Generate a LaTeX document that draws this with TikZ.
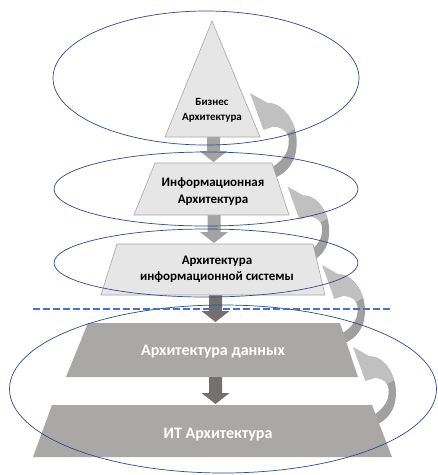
\documentclass[tikz,border=0pt]{standalone}
\usepackage{fontspec}
\setmainfont{Carlito}
\usetikzlibrary{calc}

\definecolor{shapelight}{HTML}{E7E6E6}
\definecolor{shapeedge}{HTML}{A6A6A6}
\definecolor{shapedark}{HTML}{AAA7A7}
\definecolor{arrowmid}{HTML}{A3A3A3}
\definecolor{arrowdeep}{HTML}{747070}
\definecolor{bendlight}{HTML}{C0C0C0}
\definecolor{benddark}{HTML}{A0A0A0}
\definecolor{ringblue}{HTML}{2F4B8C}
\definecolor{splitblue}{HTML}{4472C4}

% block arrow pointing down from #1 to #2
\newcommand\blockdown[3]{%
  \fill[#3] let \p1=(#1), \p2=(#2) in
    ({\x1-6.5pt},\y1) -- ({\x1+6.5pt},\y1) -- ({\x1+6.5pt},{\y2+12pt}) --
    ({\x1+14pt},{\y2+12pt}) -- (\x1,{\y2+1pt}) -- ({\x1-14pt},{\y2+12pt}) --
    ({\x1-6.5pt},{\y2+12pt}) -- cycle;}

\tikzset{
  lightshape/.style={fill=shapelight, draw=shapeedge, line width=0.6pt},
  darkshape/.style={fill=shapedark, draw=none},
  lbl/.style={align=center, inner sep=0pt, text=black},
  lblw/.style={align=center, inner sep=0pt, text=white},
  ring/.style={draw=ringblue, line width=0.7pt},
  % bent feedback arrow, drawn relative to its tip
  bendback/.pic={
    \fill[benddark] (16,9) .. controls (27,9) and (36,19) .. (40,32)
      .. controls (43,42) and (42,56) .. (37,63)
      .. controls (33,70) and (27,74) .. (21,76) -- (20,66)
      .. controls (25,63) and (32,57) .. (34,49)
      .. controls (35,43) and (35,39) .. (33,36)
      .. controls (31,32) and (26,30) .. (21,30) -- cycle;
    \fill[bendlight] (0,0) -- (16,9)
      .. controls (27,9) and (36,19) .. (40,32) -- (33,36)
      .. controls (31,32) and (26,30) .. (21,30) -- (12,33) -- cycle;
  }
}

\begin{document}
\begin{tikzpicture}[x=1pt, y=-1pt]
\useasboundingbox (0,0) rectangle (438,475);
\fill[white] (0,0) rectangle (438,475);

% tips of the feedback arrows
\coordinate (fb1) at (250,93);
\coordinate (fb2) at (287.5,186.5);
\coordinate (fb3) at (322,265);
\coordinate (fb4) at (353,347);
\pic[scale=1.12] at (fb1) {bendback};
\pic at (fb2) {bendback};
\pic[scale=1.03] at (fb3) {bendback};
\pic[scale=1.03] at (fb4) {bendback};

% attachment points of the downward arrows
\coordinate (bz-b)  at (213.5,137);
\coordinate (inf-t) at (213.5,163);
\coordinate (inf-b) at (214,215);
\coordinate (sys-t) at (214,244);
\coordinate (sys-b) at (215.5,295);
\coordinate (dat-t) at (215.5,323);
\coordinate (dat-b) at (215.5,377);
\coordinate (it-t)  at (215.5,405);

\blockdown{bz-b}{inf-t}{arrowmid}
\blockdown{inf-b}{sys-t}{arrowmid}
\blockdown{sys-b}{dat-t}{arrowdeep}
\blockdown{dat-b}{it-t}{arrowdeep}

% layers
\draw[lightshape] (212,21) -- (260,137) -- (165,137) -- cycle;
\draw[lightshape] (155,163) -- (272,163) -- (289,215) -- (134,215) -- cycle;
\draw[lightshape] (117,244) -- (313,244) -- (325,295) -- (101,295) -- cycle;
\fill[darkshape] (88,323) -- (340,323) -- (358,377) -- (66,377) -- cycle;
\fill[darkshape] (52,405) -- (372,405) -- (392,457) -- (33,457) -- cycle;

\node[lbl, font=\fontsize{11}{15}\selectfont\bfseries] (bz) at (212,110) {Бизнес\\Архитектура};
\node[lbl, font=\fontsize{13}{16.5}\selectfont\bfseries] (inf) at (213,191.5) {Информационная\\Архитектура};
\node[lbl, font=\fontsize{13}{15.5}\selectfont\bfseries] (sys) at (217,269.5) {Архитектура\\информационной системы};
\node[lblw, font=\fontsize{16}{19}\selectfont\bfseries] (dat) at (213,352) {Архитектура данных};
\node[lblw, font=\fontsize{16}{19}\selectfont\bfseries] (it) at (218,435) {ИТ Архитектура};

% scope rings
\draw[ring] (206,78) ellipse [x radius=153pt, y radius=67pt];
\draw[ring] (206,189) ellipse [x radius=152pt, y radius=37pt];
\draw[ring] (206,263) ellipse [x radius=152pt, y radius=34pt];
\draw[ring] (223,389) ellipse [x radius=213.5pt, y radius=84pt];

% boundary line
\coordinate (cut-l) at (33,309);
\coordinate (cut-r) at (390,309);
\draw[splitblue, line width=1.8pt, dash pattern=on 7pt off 3pt] (cut-l) -- (cut-r);
\end{tikzpicture}
\end{document}
